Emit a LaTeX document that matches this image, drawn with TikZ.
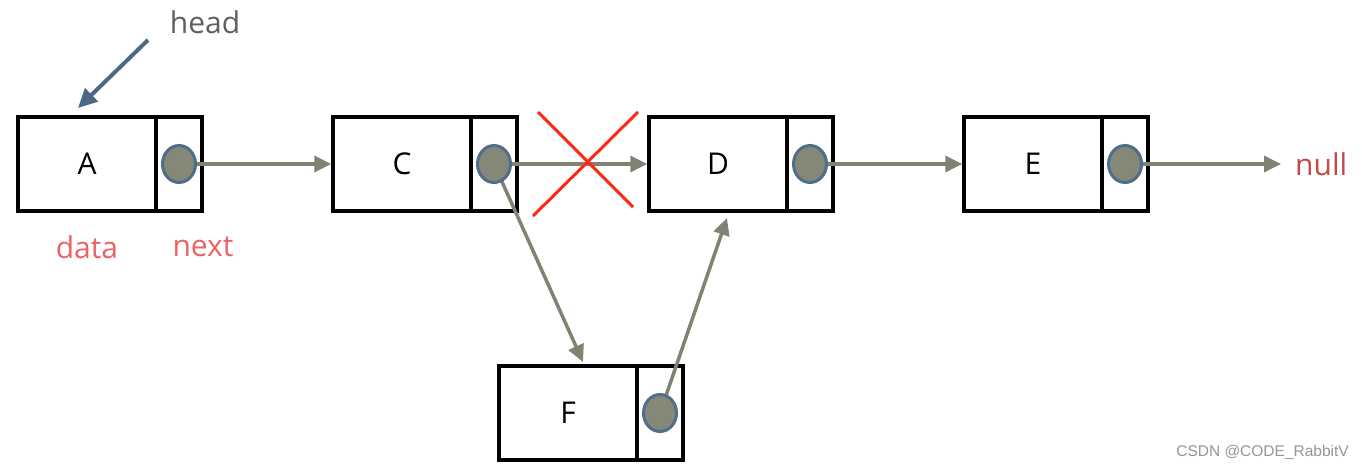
\documentclass[tikz,border=0pt]{standalone}
\usepackage{fontspec}
\setmainfont{Open Sans}
\newfontfamily\wmfont{Liberation Sans}
\usetikzlibrary{arrows.meta,shapes.geometric,backgrounds,calc}
\definecolor{linkgray}{RGB}{128,131,115}
\definecolor{dotfill}{RGB}{133,136,118}
\definecolor{dotborder}{RGB}{80,110,140}
\definecolor{headblue}{RGB}{75,105,135}
\definecolor{labelred}{RGB}{235,100,100}
\definecolor{nullred}{RGB}{195,75,75}
\definecolor{headgray}{RGB}{95,95,95}
\definecolor{xred}{RGB}{255,40,20}
\definecolor{wmgray}{RGB}{150,150,150}
\begin{document}
\begin{tikzpicture}[x=1pt,y=-1pt,
  datacell/.style={draw, line width=3.5pt, minimum width=138pt, minimum height=94pt, inner sep=0pt, font=\fontsize{30}{32}\selectfont},
  ptrcell/.style={draw, line width=3.5pt, minimum width=46pt, minimum height=94pt, inner sep=0pt},
  dot/.style={ellipse, fill=dotfill, draw=dotborder, line width=3pt, minimum width=33pt, minimum height=37pt, inner sep=0pt},
  link/.style={draw=linkgray, line width=3.5pt, -{Triangle[length=17pt,width=16pt]}},
  headlink/.style={draw=headblue, line width=4pt, -{Triangle[length=19pt,width=18pt]}},
  cross/.style={draw=xred, line width=3pt},
  lbl/.style={font=\fontsize{30}{32}\selectfont, inner sep=0pt}
]
\useasboundingbox (0,0) rectangle (1362,472);
\fill[white] (0,0) rectangle (1362,472);

% nodes
\node[datacell] (A) at (87,164) {A};
\node[ptrcell]  (Ap) at (179,164) {};
\node[datacell] (C) at (402,164) {C};
\node[ptrcell]  (Cp) at (494,164) {};
\node[datacell] (D) at (718,164) {D};
\node[ptrcell]  (Dp) at (810,164) {};
\node[datacell] (E) at (1033,164) {E};
\node[ptrcell]  (Ep) at (1125,164) {};
\node[datacell] (F) at (568,413) {F};
\node[ptrcell]  (Fp) at (660,413) {};

% labels
\node[lbl, text=headgray] (head) at (205,22) {head};
\node[lbl, text=labelred] (data) at (87,247) {data};
\node[lbl, text=labelred] (next) at (203,247) {next};
\node[lbl, text=nullred, anchor=west] (null) at (1295,164) {null};
\node[font=\wmfont\fontsize{15.5}{18}\selectfont, text=wmgray, anchor=east, inner sep=0pt] (wm) at (1349,452) {CSDN @CODE\_RabbitV};

\coordinate (headtail) at (148,40);
\coordinate (headtip) at (78,108);
\coordinate (Ftop) at (583,362);
\coordinate (Dbot) at (727,218);
\coordinate (nullend) at (1281,164);

% connectors (behind the dots)
\draw[link] (Ap.center) -- (C.west);
\draw[link] (Cp.center) -- (D.west);
\draw[link] (Dp.center) -- (E.west);
\draw[link] (Ep.center) -- (nullend);
\draw[link] (Cp.center) -- (Ftop);
\draw[link] (Fp.center) -- (Dbot);
\draw[headlink] (headtail) -- (headtip);

% dots
\node[dot] (Ad) at (Ap.center) {};
\node[dot] (Cd) at (Cp.center) {};
\node[dot] (Dd) at (Dp.center) {};
\node[dot] (Ed) at (Ep.center) {};
\node[dot] (Fd) at (Fp.center) {};

% red cross
\draw[cross] (538,112) -- (633,207);
\draw[cross] (533,216) -- (638,112);
\end{tikzpicture}
\end{document}
